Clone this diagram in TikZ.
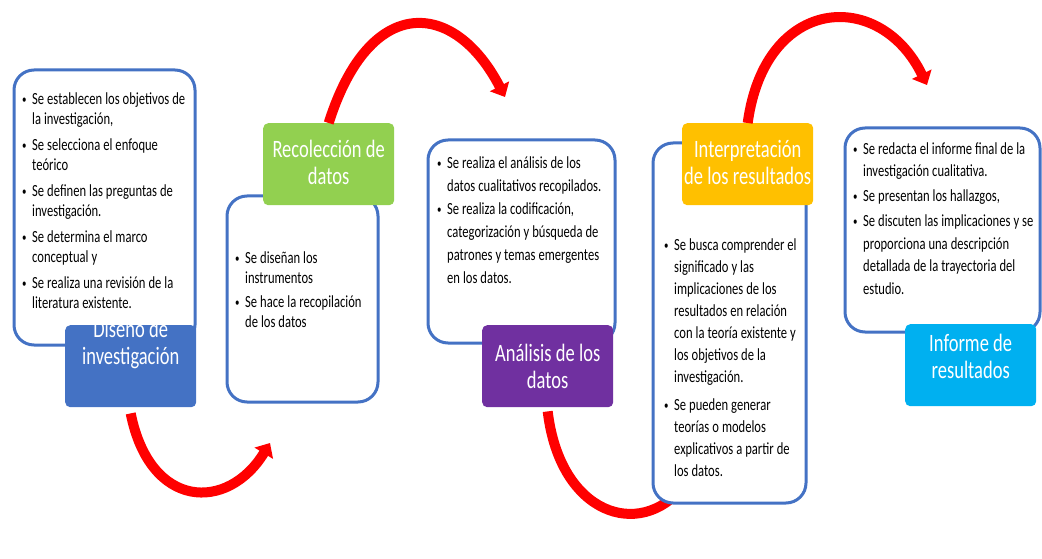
\documentclass[tikz,border=0pt]{standalone}
\usepackage{fontspec}
\setmainfont{Carlito}[FakeStretch=0.74]
\usetikzlibrary{arrows.meta}

\definecolor{marcoazul}{HTML}{4472C4}
\definecolor{azul}{HTML}{4472C4}
\definecolor{verde}{HTML}{92D050}
\definecolor{morado}{HTML}{7030A0}
\definecolor{naranja}{HTML}{FFC000}
\definecolor{celeste}{HTML}{00B0F0}
\definecolor{rojo}{HTML}{FF0000}

% bullet item with hanging indent
\newcommand{\punto}{\par\noindent\hangindent=10pt\hangafter=1%
    \hbox to 10pt{\raisebox{1pt}{\fontsize{12}{12}\selectfont\textbullet}\hss}}

\begin{document}
\begin{tikzpicture}[x=1pt, y=-1pt,
    marco/.style={draw=marcoazul, line width=3pt, fill=white, rounded corners=20pt},
    texto/.style 2 args={anchor=north west, inner sep=0pt, text width=200pt, align=left,
        font=\fontsize{17}{#1}\selectfont,
        execute at begin node={\setlength{\parskip}{#2}\setlength{\spaceskip}{3pt plus 0.5pt minus 0.5pt}}},
    titulo/.style={anchor=north west, fill=#1, rounded corners=5pt,
        minimum width=131pt, minimum height=82pt, inner sep=0pt},
    nombre/.style={text=white, align=center, font=\fontsize{25}{27}\selectfont,
        execute at begin node={\setlength{\spaceskip}{4.3pt plus 1pt minus 0.5pt}}},
    flecha/.style={draw=rojo, line width=10pt, -{Triangle[length=12pt,width=21pt]}}]
    \useasboundingbox (0,0) rectangle (1042,559);

    % Stage 1: design
    \draw[marco] (14,70) rectangle (195,345);
    \node[texto={20}{6pt}] (texto1) at (22,78) {%
        \punto Se establecen los objetivos de\newline la investigación,
        \punto Se selecciona el enfoque\newline teórico
        \punto Se definen las preguntas de\newline investigación.
        \punto Se determina el marco\newline conceptual y
        \punto Se realiza una revisión de la\newline literatura existente.\par};
    \node[titulo=azul, label={[nombre, yshift=22pt]center:{Diseño de\\investigación}}] (diseno) at (65,325) {};

    \coordinate (punta1) at (270,443);
    \draw[flecha] ([yshift=-6pt]diseno.south) .. controls (150,510) and (228,512) .. (punta1);

    % Stage 2: data collection
    \draw[marco] (227,196) rectangle (378,402);
    \node[texto={19.5}{5pt}] (texto2) at (235,239) {%
        \punto Se diseñan los\newline instrumentos
        \punto Se hace la recopilación\newline de los datos\par};
    \node[titulo=verde, label={[nombre, yshift=2pt]center:{Recolección de\\datos}}] (recoleccion) at (263,123) {};

    \coordinate (punta2) at (505,97);
    \draw[flecha] (recoleccion.north) .. controls (370,-8) and (455,0) .. (punta2);

    % Stage 3: analysis
    \draw[marco] (428,140) rectangle (615,343);
    \node[texto={23}{0pt}] (texto3) at (437,145) {%
        \punto Se realiza el análisis de los\newline datos cualitativos recopilados.
        \punto Se realiza la codificación,\newline categorización y búsqueda de\newline patrones y temas emergentes\newline en los datos.\par};
    \node[titulo=morado, label={[nombre]center:{Análisis de los\\datos}}] (analisis) at (482,325) {};

    % this one ends under the next box
    \coordinate (fin3) at (690,478);
    \draw[flecha] ([yshift=-4pt]analisis.south) .. controls (560,515) and (640,540) .. (fin3);

    % Stage 4: interpretation
    \draw[marco] (653,143) rectangle (806,503);
    \node[texto={22}{6pt}] (texto4) at (664,222) {%
        \punto Se busca comprender el\newline significado y las\newline implicaciones de los\newline resultados en relación\newline con la teoría existente y\newline los objetivos de la\newline investigación.
        \punto Se pueden generar\newline teorías o modelos\newline explicativos a partir de\newline los datos.\par};
    \node[titulo=naranja, label={[nombre, yshift=2pt]center:{Interpretación\\de los resultados}}] (interpretacion) at (682,123) {};

    \coordinate (punta4) at (927,85);
    \draw[flecha] (interpretacion.north) .. controls (765,-5) and (880,-12) .. (punta4);

    % Stage 5: report
    \draw[marco] (845,128) rectangle (1040,332);
    \node[texto={22.5}{2.5pt}] (texto5) at (853,129) {%
        \punto Se redacta el informe final de la\newline investigación cualitativa.
        \punto Se presentan los hallazgos,
        \punto Se discuten las implicaciones y se\newline proporciona una descripción\newline detallada de la trayectoria del\newline estudio.\par};
    \node[titulo=celeste, label={[nombre, yshift=9pt]center:{Informe de\\resultados}}] (informe) at (905,324) {};
\end{tikzpicture}
\end{document}
